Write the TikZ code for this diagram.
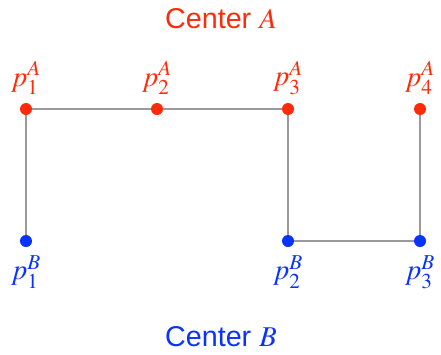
\documentclass[tikz,border=0pt]{standalone}
\usepackage{mathptmx}
\usepackage{fontspec}
\setmainfont{Liberation Sans}
\usepackage{xcolor}
\usepackage{tikz}
\usetikzlibrary{positioning}

\definecolor{cred}{HTML}{FF2A0A}
\definecolor{cblue}{HTML}{0A32FF}
\definecolor{cgray}{HTML}{9A9A9A}

\tikzset{
  pa/.style={circle, fill=cred, inner sep=0pt, minimum size=9pt},
  pb/.style={circle, fill=cblue, inner sep=0pt, minimum size=9pt},
  la/.style={text=cred, inner sep=0pt, label distance=6pt},
  lb/.style={text=cblue, inner sep=0pt, label distance=6pt},
  link/.style={cgray, line width=1pt}
}

\begin{document}
\begin{tikzpicture}[x=0.75pt, y=-0.75pt, font=\fontsize{21.5}{24}\selectfont]
  \useasboundingbox (0,0) rectangle (441,354);
  \node (cA) [text=cred] at (221,19) {Center $A$};
  \node (cB) [text=cblue] at (221,337) {Center $B$};

  \node (a1) [pa, label={[la]above:$p_1^A$}] at (26,109) {};
  \node (a2) [pa, label={[la]above:$p_2^A$}] at (157,109) {};
  \node (a3) [pa, label={[la]above:$p_3^A$}] at (288,109) {};
  \node (a4) [pa, label={[la]above:$p_4^A$}] at (420,109) {};

  \node (b1) [pb, label={[lb]below:$p_1^B$}] at (26,241) {};
  \node (b2) [pb, label={[lb]below:$p_2^B$}] at (288,241) {};
  \node (b3) [pb, label={[lb]below:$p_3^B$}] at (420,241) {};

  \draw [link] (a1) -- (a2);
  \draw [link] (a2) -- (a3);
  \draw [link] (a1) -- (b1);
  \draw [link] (a3) -- (b2);
  \draw [link] (b2) -- (b3);
  \draw [link] (b3) -- (a4);
\end{tikzpicture}
\end{document}
